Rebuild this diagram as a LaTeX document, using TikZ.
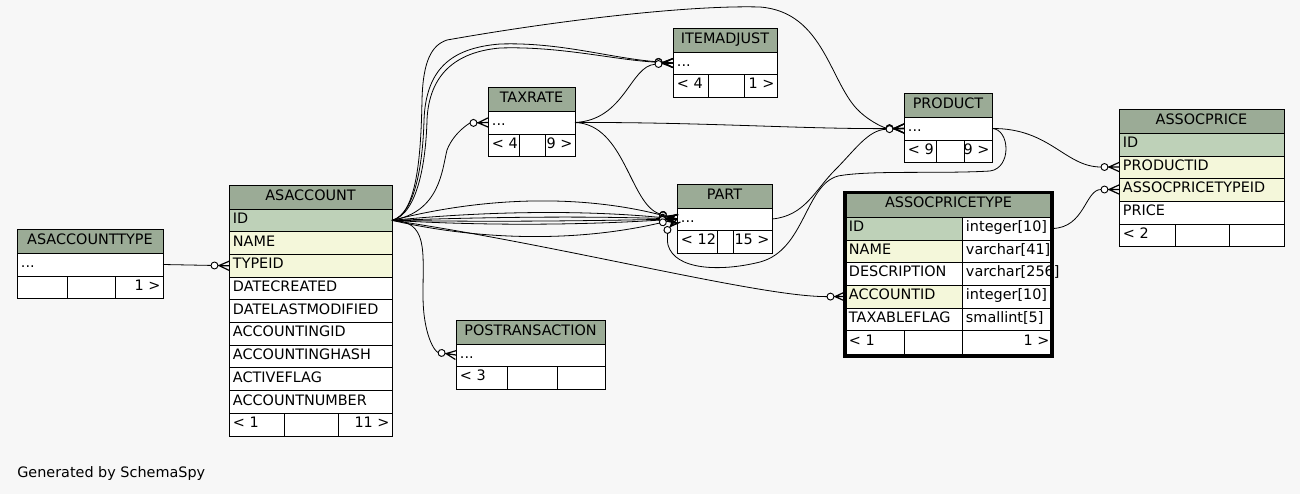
\documentclass[tikz,border=0pt]{standalone}
\usepackage{fontspec}
\setmainfont{DejaVu Sans}
\definecolor{bgc}{HTML}{F7F7F7}
\definecolor{hdr}{HTML}{9BAB96}
\definecolor{pkc}{HTML}{BED1B8}
\definecolor{fkc}{HTML}{F4F7DA}
\pgfdeclarearrow{
  name = crowodot,
  setup code = {
    \pgfarrowssettipend{0pt}
    \pgfarrowssetlineend{-13.5pt}
    \pgfarrowssetbackend{-13.5pt}
  },
  drawing code = {
    \pgfsetdash{}{0pt}
    \pgfsetlinewidth{0.9pt}
    \pgfpathmoveto{\pgfqpoint{0pt}{0pt}}
    \pgfpathlineto{\pgfqpoint{-8.2pt}{0pt}}
    \pgfpathmoveto{\pgfqpoint{0pt}{3.4pt}}
    \pgfpathlineto{\pgfqpoint{-7.5pt}{0pt}}
    \pgfpathlineto{\pgfqpoint{0pt}{-3.4pt}}
    \pgfusepathqstroke
    \pgfsetlinewidth{0.7pt}
    \pgfsetfillcolor{white}
    \pgfpathcircle{\pgfqpoint{-10.9pt}{0pt}}{2.6pt}
    \pgfusepathqfillstroke
  },
}
\def\tcpad#1{\if l#1\kern1.1pt\fi}
\newcommand\tcell[8]{%
  \pgfmathsetlengthmacro\tcw{(#4-5)*0.75pt}%
  \pgfmathsetlengthmacro\tcW{#4*0.75pt}%
  \pgfmathsetlengthmacro\tcH{#5*0.75pt}%
  \node[tc, fill=#6, minimum width=\tcW, minimum height=\tcH] (#1) at (#2,#3) {\makebox[\tcw][#7]{\tcpad{#7}#8}};}
\begin{document}
\begin{tikzpicture}[x=0.75pt,y=-0.75pt,
  tc/.style={draw=black, line width=0.75pt, rectangle, anchor=north west,
    inner xsep=1.875pt, inner ysep=0pt, outer sep=0pt,
    font=\fontsize{10.8}{13}\selectfont, text height=7.9pt, text depth=3.2pt},
  fk/.style={draw=black, line width=0.6pt, arrows={-crowodot}},
  gen/.style={anchor=base west, inner sep=0pt, font=\fontsize{10.8}{13}\selectfont}]
\fill[bgc] (0,0) rectangle (1300,494);
\useasboundingbox (0,0) rectangle (1300,494);

% ASACCOUNTTYPE
\tcell{asat-h}{17}{229}{146}{24}{hdr}{c}{ASACCOUNTTYPE}
\tcell{asat-row}{17}{253}{146}{23}{white}{l}{...}
\tcell{asat-f1}{17}{276}{50}{22}{white}{l}{}
\tcell{asat-f2}{67}{276}{48}{22}{white}{l}{}
\tcell{asat-f3}{115}{276}{48}{22}{white}{r}{1 >}

% ASACCOUNT
\tcell{asa-h}{229}{185}{163}{24}{hdr}{c}{ASACCOUNT}
\tcell{asa-id}{229}{209}{163}{22.7}{pkc}{l}{ID}
\tcell{asa-name}{229}{231.7}{163}{22.7}{fkc}{l}{NAME}
\tcell{asa-typeid}{229}{254.4}{163}{22.7}{fkc}{l}{TYPEID}
\tcell{asa-dc}{229}{277.1}{163}{22.7}{white}{l}{DATECREATED}
\tcell{asa-dlm}{229}{299.8}{163}{22.7}{white}{l}{DATELASTMODIFIED}
\tcell{asa-aid}{229}{322.5}{163}{22.7}{white}{l}{ACCOUNTINGID}
\tcell{asa-ah}{229}{345.2}{163}{22.7}{white}{l}{ACCOUNTINGHASH}
\tcell{asa-af}{229}{367.9}{163}{22.7}{white}{l}{ACTIVEFLAG}
\tcell{asa-an}{229}{390.6}{163}{22.7}{white}{l}{ACCOUNTNUMBER}
\tcell{asa-f1}{229}{413.3}{55}{22.7}{white}{l}{< 1}
\tcell{asa-f2}{284}{413.3}{54}{22.7}{white}{l}{}
\tcell{asa-f3}{338}{413.3}{54}{22.7}{white}{r}{11 >}

% TAXRATE
\tcell{tax-h}{488}{87}{87}{24}{hdr}{c}{TAXRATE}
\tcell{tax-row}{488}{111}{87}{23}{white}{l}{...}
\tcell{tax-f1}{488}{134}{31}{22}{white}{l}{< 4}
\tcell{tax-f2}{519}{134}{26}{22}{white}{l}{}
\tcell{tax-f3}{545}{134}{30}{22}{white}{r}{9 >}

% ITEMADJUST
\tcell{item-h}{673}{28}{104}{24}{hdr}{c}{ITEMADJUST}
\tcell{item-row}{673}{52}{104}{22}{white}{l}{...}
\tcell{item-f1}{673}{74}{35}{23}{white}{l}{< 4}
\tcell{item-f2}{708}{74}{36}{23}{white}{l}{}
\tcell{item-f3}{744}{74}{33}{23}{white}{r}{1 >}

% PART
\tcell{part-h}{677}{184}{95}{24}{hdr}{c}{PART}
\tcell{part-row}{677}{208}{95}{22}{white}{l}{...}
\tcell{part-f1}{677}{230}{40}{23}{white}{l}{< 12}
\tcell{part-f2}{717}{230}{16}{23}{white}{l}{}
\tcell{part-f3}{733}{230}{39}{23}{white}{r}{15 >}

% PRODUCT
\tcell{prod-h}{904}{93}{88}{24}{hdr}{c}{PRODUCT}
\tcell{prod-row}{904}{117}{88}{23}{white}{l}{...}
\tcell{prod-f1}{904}{140}{32}{22}{white}{l}{< 9}
\tcell{prod-f2}{936}{140}{28}{22}{white}{l}{}
\tcell{prod-f3}{964}{140}{28}{22}{white}{r}{9 >}

% ASSOCPRICE
\tcell{ap-h}{1119}{109}{165}{24}{hdr}{c}{ASSOCPRICE}
\tcell{ap-id}{1119}{133}{165}{23}{pkc}{l}{ID}
\tcell{ap-productid}{1119}{156}{165}{22}{fkc}{l}{PRODUCTID}
\tcell{ap-aptid}{1119}{178}{165}{23}{fkc}{l}{ASSOCPRICETYPEID}
\tcell{ap-price}{1119}{201}{165}{23}{white}{l}{PRICE}
\tcell{ap-f1}{1119}{224}{56}{22}{white}{l}{< 2}
\tcell{ap-f2}{1175}{224}{54}{22}{white}{l}{}
\tcell{ap-f3}{1229}{224}{55}{22}{white}{r}{}

% ASSOCPRICETYPE
\tcell{apt-h}{845}{192}{207}{25}{hdr}{c}{ASSOCPRICETYPE}
\tcell{apt-id}{845}{217}{117}{23}{pkc}{l}{ID}
\tcell{apt-idt}{962}{217}{90}{23}{white}{l}{integer[10]}
\tcell{apt-name}{845}{240}{117}{22}{fkc}{l}{NAME}
\tcell{apt-namet}{962}{240}{90}{22}{white}{l}{varchar[41]}
\tcell{apt-desc}{845}{262}{117}{23}{white}{l}{DESCRIPTION}
\tcell{apt-desct}{962}{262}{90}{23}{white}{l}{varchar[256]}
\tcell{apt-acc}{845}{285}{117}{23}{fkc}{l}{ACCOUNTID}
\tcell{apt-acct}{962}{285}{90}{23}{white}{l}{integer[10]}
\tcell{apt-tax}{845}{308}{117}{22}{white}{l}{TAXABLEFLAG}
\tcell{apt-taxt}{962}{308}{90}{22}{white}{l}{smallint[5]}
\tcell{apt-f1}{845}{330}{59}{24.5}{white}{l}{< 1}
\tcell{apt-f2}{904}{330}{58}{24.5}{white}{l}{}
\tcell{apt-f3}{962}{330}{90}{24.5}{white}{r}{1 >}
\draw[line width=2.6pt] (845,192.5) rectangle (1052,356.5);

% POSTRANSACTION
\tcell{pos-h}{456}{320}{149}{24}{hdr}{c}{POSTRANSACTION}
\tcell{pos-row}{456}{344}{149}{22}{white}{l}{...}
\tcell{pos-f1}{456}{366}{51}{23}{white}{l}{< 3}
\tcell{pos-f2}{507}{366}{50}{23}{white}{l}{}
\tcell{pos-f3}{557}{366}{48}{23}{white}{r}{}

\node[gen] (gen) at (17,477) {Generated by SchemaSpy};

% connectors
\draw[fk] (asat-row.east) -- (asa-typeid.west);
\draw[fk] (asa-id.east) .. controls (418,214) and (421,150) .. (422,100)
  .. controls (423,60) and (432,45) .. (447,40)
  .. controls (560,20) and (690,5) .. (760,7)
  .. controls (825,12) and (830,85) .. (860,112)
  .. controls (872,123) and (885,128) .. (prod-row.west);
\draw[fk] (asa-id.east) .. controls (416,214) and (423,160) .. (424,120)
  .. controls (426,70) and (450,48) .. (500,44)
  .. controls (560,42) and (610,58) .. (item-row.west);
\draw[fk] (asa-id.east) .. controls (418,214) and (426,160) .. (427,120)
  .. controls (429,75) and (455,52) .. (500,48)
  .. controls (560,46) and (615,60) .. (item-row.west);
\draw[fk] (asa-id.east) .. controls (440,212) and (442,170) .. (447,150)
  .. controls (454,132) and (470,123) .. (tax-row.west);
\draw[fk] (tax-row.east) .. controls (625,120) and (630,66) .. (item-row.west);
\draw[fk] (tax-row.east) .. controls (700,122) and (800,129) .. (prod-row.west);
\draw[fk] (tax-row.east) .. controls (625,124) and (630,205) .. (part-row.west);
\foreach \d in {-24,-9,-3,2,6,22}
  \draw[fk] (asa-id.east) .. controls (487,{220+\d}) and (582,{219+\d}) .. (part-row.west);
\draw[fk] (part-row.east) .. controls (805,216) and (815,190) .. (835,170)
  .. controls (855,150) and (868,130) .. (prod-row.west);
\draw[fk] (prod-row.east) .. controls (1010,129) and (1012,168) .. (990,171)
  .. controls (940,174) and (870,170) .. (838,176)
  .. controls (805,185) and (805,250) .. (760,262)
  .. controls (720,272) and (675,270) .. (668,245)
  .. controls (666,236) and (670,227) .. (part-row.west);
\draw[fk] (prod-row.east) .. controls (1050,128) and (1065,167) .. (ap-productid.west);
\draw[fk] (apt-idt.east) .. controls (1085,228) and (1085,189.5) .. (ap-aptid.west);
\draw[fk] (asa-id.east) .. controls (560,245) and (760,297) .. (apt-acc.west);
\draw[fk] (asa-id.east) .. controls (428,221) and (423,250) .. (423,295)
  .. controls (423,335) and (435,352) .. (pos-row.west);
\end{tikzpicture}
\end{document}
